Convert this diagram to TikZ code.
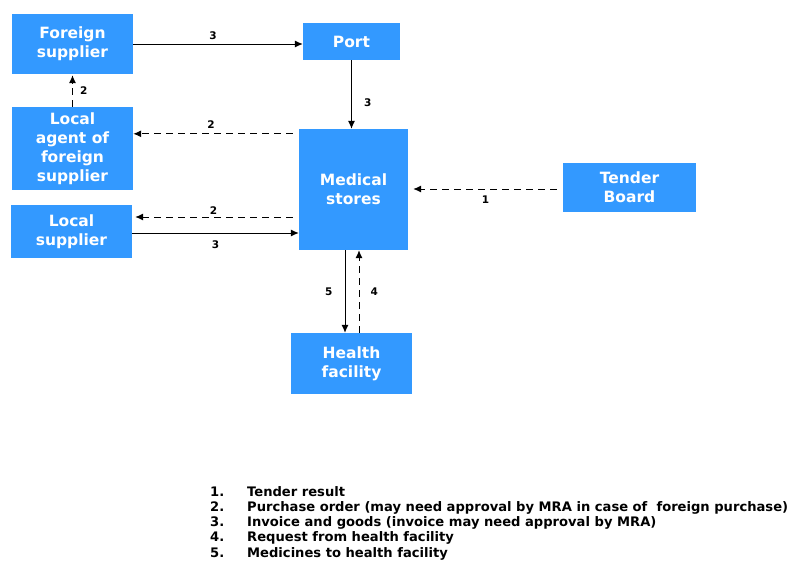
\documentclass[tikz,border=0pt]{standalone}
\usepackage{fontspec}
\setmainfont{DejaVu Sans}
\usetikzlibrary{arrows.meta}
\definecolor{boxblue}{RGB}{51,153,255}
\tikzset{
  box/.style={fill=boxblue, text=white, align=center, inner sep=0pt,
    font=\bfseries\fontsize{15.5}{19}\selectfont},
  flow/.style={-{Latex[length=8pt,width=7pt]}, line width=1pt},
  req/.style={flow, dash pattern=on 7pt off 5pt},
  num/.style={font=\bfseries\fontsize{10.5}{12}\selectfont, inner sep=1pt},
}
\begin{document}
\begin{tikzpicture}[x=1pt,y=-1pt]
        \useasboundingbox (0,0) rectangle (795,560);
        % Nodes
        \node[box, minimum width=121pt, minimum height=60pt] (foreign) at (72.5,44) {Foreign\\supplier};
        \node[box, minimum width=97pt, minimum height=37pt] (port) at (351.5,41.5) {Port};
        \node[box, minimum width=121pt, minimum height=83pt] (agent) at (72.5,148.5) {Local\\agent of\\foreign\\supplier};
        \node[box, minimum width=121pt, minimum height=53pt] (local) at (71.5,231.5) {Local\\supplier};
        \node[box, minimum width=109pt, minimum height=121pt] (medical) at (353.5,189.5) {Medical\\stores};
        \node[box, minimum width=133pt, minimum height=49pt] (tender) at (629.5,187.5) {Tender\\Board};
        \node[box, minimum width=121pt, minimum height=61pt] (health) at (351.5,363.5) {Health\\facility};

        % Arrows
        \draw[flow] (foreign.east) -- (foreign.east -| port.west) node[num, midway, above=3pt, xshift=-5pt] {3};
        \draw[flow] (port.south) -- (port.south |- medical.north) node[num, pos=0.62, right=11pt] {3};
        \draw[req, shorten <=6pt] ([yshift=-5pt]medical.north west) -- ([yshift=-5pt]medical.north west -| agent.east)
                node[num, midway, above=4pt, xshift=-5pt] {2};
        \draw[req, shorten >=1pt] (agent.north) -- (foreign.south) node[num, midway, right=6pt] {2};
        \draw[req, shorten <=6pt, shorten >=3pt] ([yshift=-27.5pt]medical.west) -- ([yshift=-27.5pt]medical.west -| local.east)
                node[num, midway, above=1pt, xshift=-2pt] {2};
        \draw[flow] ([yshift=-1.5pt]local.east) -- ([yshift=-1.5pt]local.east -| medical.west)
                node[num, midway, below=6pt] {3};
        \draw[req, shorten <=6pt, shorten >=5pt] ([yshift=-1.5pt]tender.west) -- ([yshift=-1.5pt]tender.west -| medical.east)
                node[num, midway, below=5pt] {1};
        \draw[flow] ([xshift=-8.5pt]medical.south) -- ([xshift=-8.5pt]medical.south |- health.north)
                node[num, midway, left=11pt] {5};
        \draw[req] ([xshift=7.5pt]health.north) -- ([xshift=7.5pt]health.north |- medical.south)
                node[num, midway, right=10pt] {4};

        % Legend
        \node[anchor=north west, inner sep=0pt, font=\bfseries\fontsize{13.1}{15.2}\selectfont] (legend) at (210,485.5) {%
                \begin{tabular}{@{}p{37pt}@{}l@{}}
                1. & Tender result\\
                2. & Purchase order (may need approval by MRA in case of\ \ foreign purchase)\\
                3. & Invoice and goods (invoice may need approval by MRA)\\
                4. & Request from health facility\\
                5. & Medicines to health facility
                \end{tabular}};
\end{tikzpicture}
\end{document}
